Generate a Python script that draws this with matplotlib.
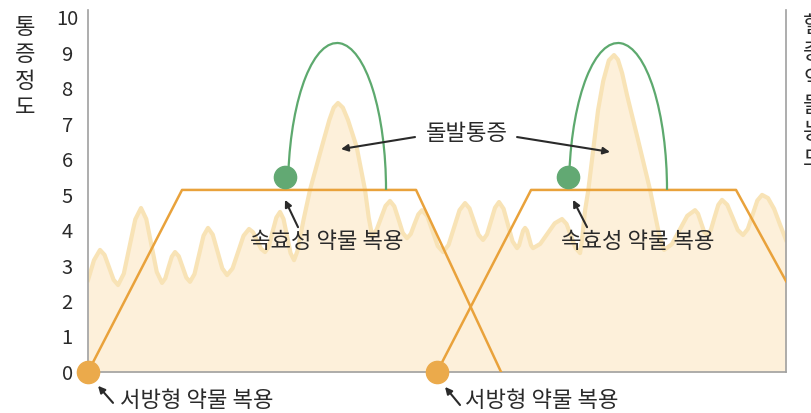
import matplotlib
matplotlib.use('Agg')
import matplotlib.pyplot as plt
from matplotlib.patches import Arc

plt.rcParams['font.family'] = ['Noto Sans CJK KR', 'DejaVu Sans']

# pain level (0-10) over time, background fluctuation
pain_t = [0, 0.85, 1.71, 2.36, 3.0, 3.65, 4.29, 5.11, 5.93, 6.75, 7.57,
          8.32, 9.07, 9.82, 10.57, 11.04, 11.5, 11.97, 12.43, 12.97, 13.5,
          14.04, 14.57, 15.21, 15.86, 16.5, 17.14, 17.82, 18.5, 19.18, 19.86,
          20.65, 21.43, 22.22, 23.0, 23.57, 24.15, 24.72, 25.29, 25.83, 26.36,
          26.9, 27.43, 27.93, 28.43, 28.93, 29.43, 29.9, 30.8, 31.71,
          33.39, 34.47, 35.1, 35.71, 36.4, 37.14, 38.38, 39.57, 40.1, 40.57,
          41.21, 41.86, 42.5, 43.14, 43.75, 44.36, 44.96, 45.57, 46.11, 46.64,
          47.18, 47.71, 48.46, 49.21, 49.96, 50.71, 51.5, 52.29, 53.07, 53.86,
          54.5, 55.15, 55.79, 56.43, 57.0, 57.57, 58.14, 58.71, 59.36, 60.0,
          60.65, 61.29, 61.58, 61.86, 62.15, 62.43, 62.72, 63.0, 63.29, 63.57,
          64.6, 65.64, 66.67, 67.71, 68.36, 69.0, 69.65, 70.29, 70.55, 71.0,
          71.47, 72.86, 73.6, 74.4, 75.14, 75.7, 76.3, 77.0, 78.57, 80.29,
          81.5, 82.29, 83.4, 84.5, 85.6, 86.71, 87.14, 87.57, 88.0, 88.43,
          88.97, 89.5, 90.04, 90.57, 91.32, 92.07, 92.82, 93.57, 94.25, 94.93,
          95.61, 96.29, 97.14, 98.0, 98.86, 99.71]
pain_v = [2.59, 3.15, 3.44, 3.30, 2.95, 2.60, 2.45, 2.77, 3.54, 4.30, 4.62,
          4.31, 3.57, 2.82, 2.51, 2.64, 2.95, 3.25, 3.38, 3.26, 2.96,
          2.66, 2.54, 2.76, 3.30, 3.84, 4.06, 3.87, 3.40, 2.92, 2.73,
          2.92, 3.38, 3.84, 4.03, 3.94, 3.71, 3.47, 3.38, 3.54, 3.95,
          4.35, 4.51, 4.31, 3.83, 3.35, 3.15, 3.40, 4.30, 5.13,
          6.34, 7.10, 7.45, 7.58, 7.45, 7.10, 6.34, 5.13, 4.35, 3.85,
          4.0, 4.34, 4.68, 4.82, 4.67, 4.30, 3.92, 3.77, 3.89, 4.17,
          4.44, 4.56, 4.39, 3.97, 3.55, 3.38, 3.58, 4.07, 4.56, 4.76,
          4.61, 4.24, 3.87, 3.72, 3.88, 4.26, 4.63, 4.79, 4.60, 4.14,
          3.68, 3.49, 3.57, 3.78, 3.98, 4.06, 3.98, 3.78, 3.57, 3.49,
          3.61, 3.90, 4.19, 4.31, 4.17, 3.83, 3.49, 3.35, 3.70, 4.55,
          5.13, 7.38, 8.20, 8.78, 8.93, 8.80, 8.42, 7.80, 6.54, 5.13,
          3.95, 3.44, 3.60, 4.0, 4.40, 4.56, 4.46, 4.21, 3.96, 3.86,
          4.0, 4.36, 4.71, 4.85, 4.71, 4.36, 4.0, 3.86, 4.03, 4.43,
          4.83, 4.99, 4.90, 4.60, 4.15, 3.72]

# sustained-release drug level (two doses)
sr1_t = [0, 13.43, 46.86, 59.0]
sr1_v = [0, 5.13, 5.13, 0]
sr2_t = [49.86, 63.29, 92.57, 99.71]
sr2_v = [0, 5.13, 5.13, 2.56]

# rapid-acting drug doses and their effect arcs
rapid_t = [28.14, 68.57]
rapid_v = [5.49, 5.49]
arc_center = [35.57, 75.71]
arc_base = 5.13
arc_width = 14.0
arc_peak = 9.27

ORANGE = '#E9A23B'
GREEN = '#5DA96E'
TXT = '#2a2a2a'
FS = 16

fig = plt.figure(figsize=(8.12, 4.13), dpi=100)
ax = fig.add_axes([0.1084, 0.0993, 0.8596, 0.8765])

ax.fill_between(pain_t, 0, pain_v, color='#FDF0DA', lw=0, zorder=1)
ax.plot(pain_t, pain_v, color='#F8E3B6', lw=3, zorder=2, solid_joinstyle='round')

ax.plot(sr1_t, sr1_v, color=ORANGE, lw=1.8, zorder=3)
ax.plot(sr2_t, sr2_v, color=ORANGE, lw=1.8, zorder=3)
ax.plot([sr1_t[0], sr2_t[0]], [sr1_v[0], sr2_v[0]], 'o', color='#EBAA4B',
        ms=16, zorder=6, clip_on=False)

for cx in arc_center:
    ax.add_patch(Arc((cx, arc_base), arc_width, 2 * (arc_peak - arc_base),
                     theta1=0, theta2=176, color=GREEN, lw=1.6, zorder=4))
ax.plot(rapid_t, rapid_v, 'o', color='#62A973', ms=16, zorder=6)

ax.set_xlim(0, 99.71)
ax.set_ylim(0, 10.2)
ax.set_yticks(range(0, 11))
ax.set_xticks([])
ax.tick_params(axis='y', length=0, pad=15, labelsize=14.5, labelcolor=TXT)
for lab in ax.get_yticklabels():
    lab.set_horizontalalignment('center')

for side in ['left', 'bottom', 'right']:
    ax.spines[side].set_color('#a0a0a0')
    ax.spines[side].set_linewidth(1.2)
ax.spines['top'].set_visible(False)

arrow = dict(arrowstyle='-|>', color=TXT, lw=1.5, mutation_scale=10,
             shrinkA=0, shrinkB=0)

def note(txt, x, y, ha='center'):
    ax.text(x, y, txt, ha=ha, va='center', fontsize=FS, color=TXT,
            zorder=7, clip_on=False)

def pointer(tail, head):
    ax.annotate('', xy=head, xytext=tail, arrowprops=arrow,
                annotation_clip=False, zorder=7)

note('서방형 약물 복용', 4.6, -0.8, ha='left')
pointer((3.57, -0.87), (1.43, -0.39))
note('서방형 약물 복용', 53.86, -0.8, ha='left')
pointer((53.14, -0.93), (51.0, -0.42))

note('속효성 약물 복용', 34.14, 3.69)
pointer((30.0, 4.08), (28.14, 4.85))
note('속효성 약물 복용', 78.57, 3.69)
pointer((71.29, 4.08), (69.29, 4.85))

note('돌발통증', 54.14, 6.73)
pointer((46.71, 6.62), (36.14, 6.28))
pointer((61.29, 6.62), (74.57, 6.20))

# axis titles, written vertically; the right one runs off the edge as in the source
fig.text(0.031, 0.961, '통\n증\n정\n도', ha='center', va='top',
         fontsize=FS, color=TXT, linespacing=1.21)
fig.text(0.989, 0.966, '혈\n중\n약\n물\n농\n도', ha='left', va='top',
         fontsize=FS, color=TXT, linespacing=1.21)

plt.savefig('out.png', dpi=100)
